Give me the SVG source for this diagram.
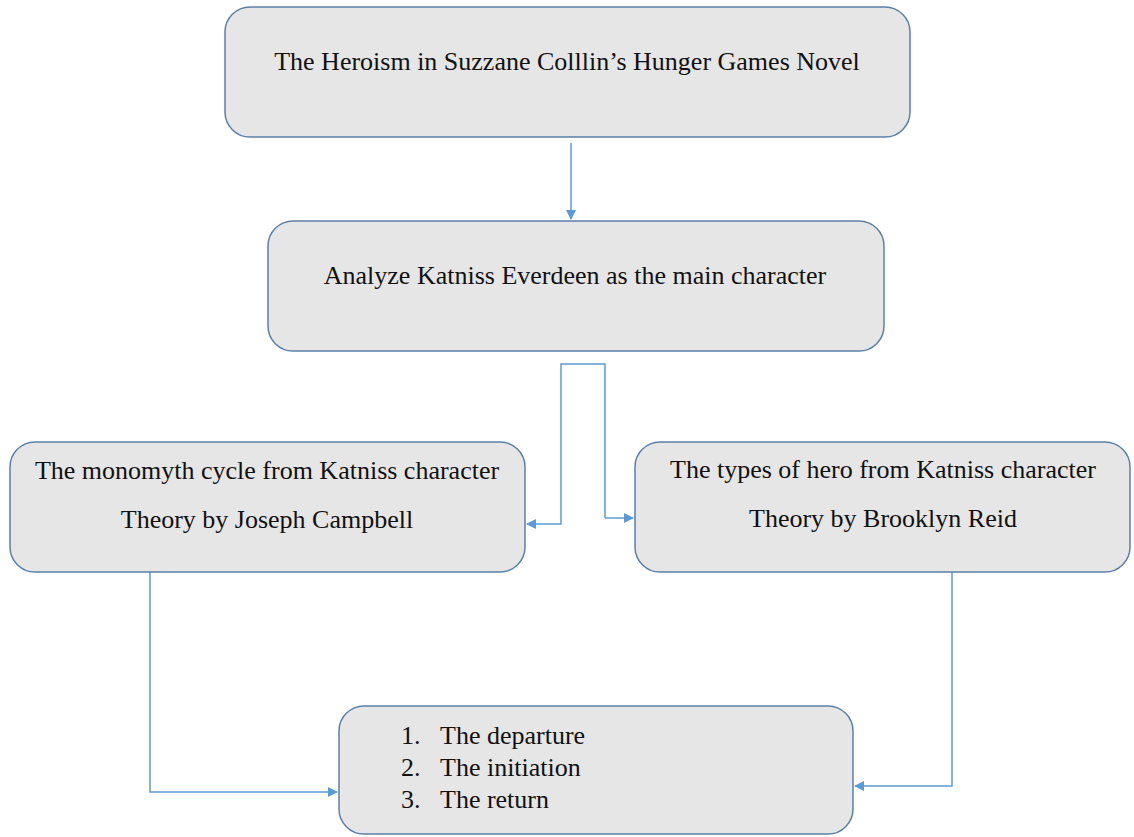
<svg xmlns="http://www.w3.org/2000/svg" width="1134" height="837" viewBox="0 0 1134 837">
<style>
.box{fill:#e6e6e6;stroke:#5b80a8;stroke-width:1.5}
.t{font-family:"Liberation Serif","Times New Roman",serif;font-size:26px;fill:#111}
.c{text-anchor:middle}
.ln{fill:none;stroke:#5b9bd5;stroke-width:1.5}
</style>
<defs>
<marker id="ah" markerWidth="10" markerHeight="10" refX="9" refY="5" orient="auto" markerUnits="userSpaceOnUse">
<path d="M0,0 L10,5 L0,10 Z" fill="#5b9bd5"/>
</marker>
</defs>
<g id="connectors">
<path class="ln" d="M571,143 V219" marker-end="url(#ah)"/>
<path class="ln" d="M605,518 V364 H561 V524 H527" marker-end="url(#ah)"/>
<path class="ln" d="M605,518 H633" marker-end="url(#ah)"/>
<path class="ln" d="M150,572 V792 H337" marker-end="url(#ah)"/>
<path class="ln" d="M952,572 V786 H855" marker-end="url(#ah)"/>
</g>
<g id="n1">
<rect class="box" x="225" y="7" width="685" height="130" rx="25"/>
<text class="t c" x="567" y="70">The Heroism in Suzzane Colllin’s Hunger Games Novel</text>
</g>
<g id="n2">
<rect class="box" x="268" y="221" width="616" height="130" rx="25"/>
<text class="t c" x="575" y="284">Analyze Katniss Everdeen as the main character</text>
</g>
<g id="n3">
<rect class="box" x="10" y="442" width="515" height="130" rx="25"/>
<text class="t c" x="267" y="479">The monomyth cycle from Katniss character</text>
<text class="t c" x="267" y="528">Theory by Joseph Campbell</text>
</g>
<g id="n4">
<rect class="box" x="635" y="442" width="495" height="130" rx="25"/>
<text class="t c" x="883" y="478">The types of hero from Katniss character</text>
<text class="t c" x="883" y="527">Theory by Brooklyn Reid</text>
</g>
<g id="n5">
<rect class="box" x="339" y="706" width="514" height="128" rx="25"/>
<text class="t" x="401" y="744">1.</text>
<text class="t" x="440" y="744">The departure</text>
<text class="t" x="401" y="776">2.</text>
<text class="t" x="440" y="776">The initiation</text>
<text class="t" x="401" y="808">3.</text>
<text class="t" x="440" y="808">The return</text>
</g>
</svg>
